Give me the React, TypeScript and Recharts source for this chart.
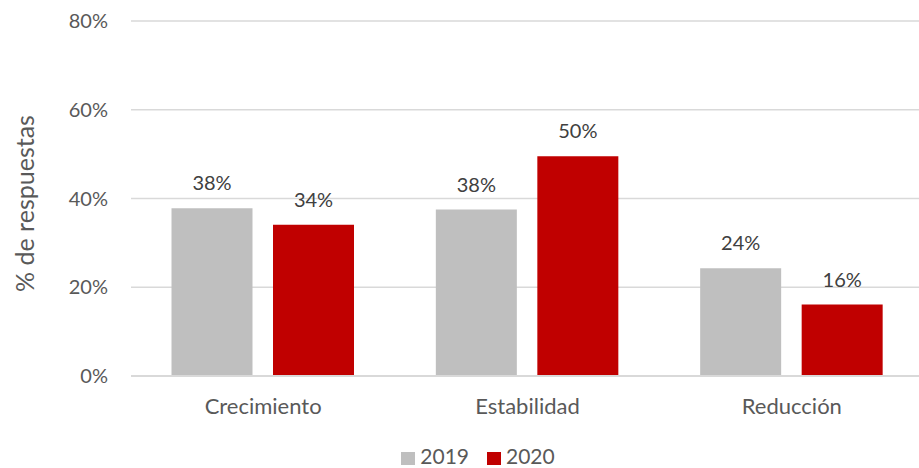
import { BarChart, Bar, XAxis, YAxis, CartesianGrid, Legend, LabelList } from "recharts";

const categories = ["Crecimiento", "Estabilidad", "Reducción"];
const values2019 = [37.8, 37.5, 24.3];
const values2020 = [34.1, 49.5, 16.1];
const yTicks = [0, 20, 40, 60, 80];

const GRAY = "#BFBFBF";
const RED = "#C00000";
const FONT = "Lato, 'Open Sans', sans-serif";

const data = categories.map((name, i) => ({
  name,
  y2019: values2019[i],
  y2020: values2020[i],
}));

function LegendContent() {
  const items = [
    { label: "2019", color: GRAY },
    { label: "2020", color: RED },
  ];
  return (
    <div
      style={{
        display: "flex",
        justifyContent: "center",
        alignItems: "flex-end",
        height: 30,
        paddingLeft: 32,
        paddingBottom: 2,
        boxSizing: "border-box",
        fontFamily: FONT,
        fontSize: 21,
        lineHeight: 0.9,
        color: "#595959",
      }}
    >
      {items.map((it, i) => (
        <div key={it.label} style={{ display: "flex", alignItems: "flex-end", marginLeft: i ? 18 : 0 }}>
          <span
            style={{ width: 14, height: 13, background: it.color, display: "inline-block", marginRight: 5, marginBottom: 1 }}
          />
          <span>{it.label}</span>
        </div>
      ))}
    </div>
  );
}

function YTitle(props: any) {
  const vb = props.viewBox || { x: 0, y: 0, width: 0, height: 0 };
  const cx = 23.5;
  const cy = vb.y + vb.height / 2 + 5;
  return (
    <text
      x={cx}
      y={cy}
      transform={`rotate(-90 ${cx} ${cy})`}
      textAnchor="middle"
      dominantBaseline="central"
      fill="#595959"
      fontSize={25}
      fontFamily={FONT}
    >
      % de respuestas
    </text>
  );
}

export default function App() {
  return (
    <div
      style={{ position: "absolute", left: 0, top: 0, width: 919, height: 468, overflow: "hidden", background: "#fff" }}
    >
      <BarChart
        width={924}
        height={468}
        data={data}
        margin={{ top: 21, right: 0, left: 0, bottom: 0 }}
        barCategoryGap={40.5}
        barGap={20.5}
      >
        <CartesianGrid vertical={false} stroke="#D9D9D9" strokeWidth={1.3} />
        <XAxis
          dataKey="name"
          height={62}
          tickSize={0}
          tickMargin={22.5}
          axisLine={{ stroke: "#D9D9D9", strokeWidth: 2 }}
          tickLine={false}
          tick={{ fill: "#595959", fontSize: 22, fontFamily: FONT }}
        />
        <YAxis
          width={131}
          domain={[0, 80]}
          ticks={yTicks}
          tickSize={0}
          tickMargin={23}
          axisLine={false}
          tickLine={false}
          tickFormatter={(v) => `${v}%`}
          tick={{ fill: "#595959", fontSize: 20, fontFamily: FONT }}
          label={{ content: <YTitle /> }}
        />
        <Legend verticalAlign="bottom" content={<LegendContent />} />
        <Bar dataKey="y2019" name="2019" fill={GRAY} isAnimationActive={false}>
          <LabelList
            dataKey="y2019"
            position="top"
            offset={18}
            formatter={(v: any) => `${Math.round(v)}%`}
            style={{ fill: "#404040", fontSize: 20, fontFamily: FONT }}
          />
        </Bar>
        <Bar dataKey="y2020" name="2020" fill={RED} isAnimationActive={false}>
          <LabelList
            dataKey="y2020"
            position="top"
            offset={18}
            formatter={(v: any) => `${Math.round(v)}%`}
            style={{ fill: "#404040", fontSize: 20, fontFamily: FONT }}
          />
        </Bar>
      </BarChart>
    </div>
  );
}
